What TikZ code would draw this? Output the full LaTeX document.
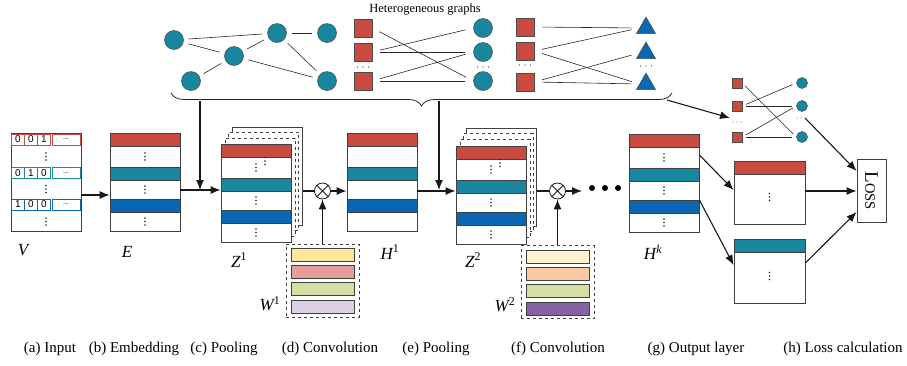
\documentclass[tikz,border=0pt]{standalone}
\usepackage{fontspec}
\setmainfont{Liberation Serif}
\newfontfamily\sansf{Liberation Sans}
\usetikzlibrary{arrows.meta,decorations.pathreplacing,shapes.geometric,calc}
\definecolor{cred}{HTML}{C84B3F}
\definecolor{cteal}{HTML}{17869E}
\definecolor{cblue}{HTML}{0967B4}
\definecolor{wyel}{HTML}{FFE69A}
\definecolor{wpink}{HTML}{E59C9A}
\definecolor{wgreen}{HTML}{D3DFA3}
\definecolor{wlav}{HTML}{DCD0E6}
\definecolor{wcream}{HTML}{FFF3D1}
\definecolor{wpeach}{HTML}{F9CBA5}
\definecolor{wpurp}{HTML}{8563A3}
\newcommand\vdt[2]{\fill[black!85] (#1,#2-3.5) circle (0.8pt) (#1,#2) circle (0.8pt) (#1,#2+3.5) circle (0.8pt);}
\newcommand\hdt[2]{\fill[black!80] (#1-5.5,#2) circle (0.6pt) (#1,#2) circle (0.6pt) (#1+5.5,#2) circle (0.6pt);}
\newcommand\colbox[4]{%
  \node[frame] (#1) at (#2+35,#3+49) {};
  \node[band,fill=cred] (#1-r) at (#2+35,#3+6.5) {};
  \node[band,fill=cteal] (#1-t) at (#2+35,#3+40.5) {};
  \node[band,fill=cblue] (#1-b) at (#2+35,#3+72.5) {};
  \ifnum#4=1 \vdt{#2+35}{#3+23.5}\vdt{#2+35}{#3+56.5}\vdt{#2+35}{#3+88.5}\fi}
\newcommand\vrow[6]{%
  \node[cell,draw=#3,minimum width=13pt] (#1a) at (18,#2) {#4};
  \node[cell,draw=#3,minimum width=13pt] (#1b) at (31,#2) {#5};
  \node[cell,draw=#3,minimum width=13pt] (#1c) at (44,#2) {#6};
  \node[cell,draw=#3,minimum width=28pt] (#1d) at (66,#2) {\fontsize{7}{7}\selectfont ...};}
\begin{document}
\begin{tikzpicture}[x=1pt,y=-1pt,
 frame/.style={draw=black!75,line width=0.8pt,fill=white,minimum width=70pt,minimum height=98pt,inner sep=0pt},
 band/.style={draw=black!75,line width=0.8pt,minimum width=70pt,minimum height=13pt,inner sep=0pt},
 arr/.style={draw=black!90,line width=1.1pt,-{Latex[length=10pt,width=8pt]}},
 ln/.style={draw=black!90,line width=1.1pt},
 gedge/.style={draw=black!85,line width=0.6pt},
 gc/.style={circle,fill=cteal,draw=black!70,line width=0.5pt,minimum size=19pt,inner sep=0pt},
 gs/.style={rectangle,fill=cred,draw=black!70,line width=0.5pt,minimum size=18pt,inner sep=0pt},
 gt/.style={regular polygon,regular polygon sides=3,fill=cblue,draw=black!70,line width=0.5pt,minimum size=22pt,inner sep=0pt},
 sgc/.style={gc,minimum size=11pt},
 sgs/.style={gs,minimum size=10pt},
 lab/.style={font=\fontsize{17}{17}\selectfont\itshape,inner sep=0pt},
 captxt/.style={font=\fontsize{15}{15}\selectfont,inner sep=0pt},
 cell/.style={line width=0.7pt,minimum height=11pt,inner sep=0pt,font=\sansf\fontsize{10}{10}\selectfont},
 wbar/.style={draw=black!75,line width=0.8pt,minimum width=63pt,minimum height=13pt,inner sep=0pt},
 wframe/.style={draw=black!75,dashed,line width=0.8pt,minimum width=73pt,minimum height=73pt,inner sep=0pt},
 ox/.style={circle,draw=black!90,line width=0.8pt,fill=white,minimum size=16pt,inner sep=0pt},
 page/.style={frame},
 dpage/.style={frame,dashed}
]
\useasboundingbox (0,0) rectangle (907,365);

% ---------- heterogeneous graphs ----------
\node[font=\fontsize{12.5}{12.5}\selectfont,inner sep=0pt] (title) at (425,10) {Heterogeneous graphs};
\node[gc] (ga) at (174,40) {};
\node[gc] (gb) at (277,33) {};
\node[gc] (gcc) at (327,33) {};
\node[gc] (gd) at (234,56) {};
\node[gc] (ge) at (191,81) {};
\node[gc] (gf) at (327,81) {};
\draw[gedge,shorten <=5pt,shorten >=5pt] (ga) -- (gb);
\draw[gedge,shorten <=5pt,shorten >=5pt] (ga) -- (gd);
\draw[gedge,shorten <=5pt,shorten >=5pt] (gd) -- (gb);
\draw[gedge,shorten <=5pt,shorten >=5pt] (gb) -- (gcc);
\draw[gedge,shorten <=5pt,shorten >=5pt] (gb) -- (gf);
\draw[gedge,shorten <=5pt,shorten >=5pt] (gd) -- (gf);
\draw[gedge,shorten <=5pt,shorten >=5pt] (ge) -- (gd);

\node[gs] (sA1) at (363,28) {};
\node[gs] (sA2) at (363,52) {};
\node[gs] (sA3) at (363,81) {};
\hdt{363}{67}
\node[gc] (cA1) at (483,28) {};
\node[gc] (cA2) at (483,52) {};
\node[gc] (cA3) at (483,81) {};
\hdt{483}{67}
\begin{scope}[gedge,shorten <=8pt,shorten >=8pt]
\draw (sA1.east) -- (cA3.west);
\draw (sA2.east) -- (cA1.west);
\draw (sA2.east) -- (cA2.west);
\draw (sA3.east) -- (cA2.west);
\draw (sA3.east) -- (cA3.west);
\end{scope}

\node[gs] (sB1) at (525,27) {};
\node[gs] (sB2) at (525,51) {};
\node[gs] (sB3) at (525,82) {};
\hdt{525}{65}
\node[gt] (tB1) at (646,28) {};
\node[gt] (tB2) at (646,53) {};
\node[gt] (tB3) at (646,84) {};
\hdt{646}{66}
\begin{scope}[gedge,shorten <=8pt,shorten >=8pt]
\draw (sB1.east) -- (tB1.west);
\draw (sB2.east) -- (tB1.west);
\draw (sB2.east) -- (tB3.west);
\draw (sB3.east) -- (tB2.west);
\draw (sB3.east) -- (tB3.west);
\end{scope}

\draw[draw=black!85,line width=0.8pt,decorate,decoration={brace,mirror,amplitude=13pt}] (171,93) -- (672,93);
\coordinate (bl) at (200,101);
\coordinate (bm) at (439,101);
\coordinate (br) at (667,100);

% small output graph
\node[sgs] (sC1) at (737,83) {};
\node[sgs] (sC2) at (737,106) {};
\node[sgs] (sC3) at (737,137) {};
\node[sgc] (cC1) at (802,83) {};
\node[sgc] (cC2) at (802,106) {};
\node[sgc] (cC3) at (802,137) {};
\fill[black!80] (733,122) circle (0.5pt) (737,122) circle (0.5pt) (741,122) circle (0.5pt);
\fill[black!80] (797,118) circle (0.5pt) (801,118) circle (0.5pt);
\coordinate (dC) at (805,118);
\begin{scope}[gedge,shorten <=4pt,shorten >=4pt]
\draw (sC1.east) -- (cC3.west);
\draw (sC2.east) -- (cC1.west);
\draw (sC2.east) -- (cC2.west);
\draw (sC3.east) -- (cC2.west);
\draw (sC3.east) -- (cC3.west);
\end{scope}

% ---------- V ----------
\node[frame] (V) at (46,182) {};
\vrow{Va}{139.5}{cred}{0}{0}{1}
\vrow{Vb}{173}{cteal}{0}{1}{0}
\vrow{Vc}{204.5}{cblue}{1}{0}{0}
\vdt{46}{156.5}\vdt{46}{189}\vdt{46}{221.5}

% ---------- E ----------
\colbox{E}{110}{133}{1}

% ---------- Z1 ----------
\node[page] (z1p3) at (256.5+11,193-17) {};
\node[dpage] (z1p2) at (256.5+7,193-12) {};
\node[dpage] (z1p1) at (256.5+3.5,193-6) {};
\colbox{Z1}{221}{144}{1}
\vdt{265}{161}

% ---------- H1 ----------
\colbox{H1}{347}{133}{0}

% ---------- Z2 ----------
\node[page] (z2p3) at (491.5+10,194.5-17) {};
\node[dpage] (z2p2) at (491.5+6.5,194.5-12) {};
\node[dpage] (z2p1) at (491.5+3.5,194.5-6) {};
\colbox{Z2}{456}{146}{1}
\vdt{500}{163}

% ---------- Hk ----------
\colbox{Hk}{629}{134}{1}

% ---------- W ----------
\node[wframe] (W1) at (322.5,280.5) {};
\node[wbar,fill=wyel] (W1a) at (322.5,254.5) {};
\node[wbar,fill=wpink] (W1b) at (322.5,271.5) {};
\node[wbar,fill=wgreen] (W1c) at (322.5,289) {};
\node[wbar,fill=wlav] (W1d) at (322.5,306.5) {};
\node[wframe] (W2) at (557.5,282) {};
\node[wbar,fill=wcream] (W2a) at (557.5,256.5) {};
\node[wbar,fill=wpeach] (W2b) at (557.5,273.5) {};
\node[wbar,fill=wgreen] (W2c) at (557.5,291) {};
\node[wbar,fill=wpurp] (W2d) at (557.5,308.5) {};

% ---------- otimes ----------
\node[ox] (o1) at (322.5,191) {};
\draw[black!90,line width=0.8pt] (o1.north west) -- (o1.south east) (o1.north east) -- (o1.south west);
\node[ox] (o2) at (557.5,191) {};
\draw[black!90,line width=0.8pt] (o2.north west) -- (o2.south east) (o2.north east) -- (o2.south west);

% ---------- output ----------
\node[frame,minimum width=71pt,minimum height=63pt] (out1) at (769.5,192.5) {};
\node[band,minimum width=71pt,fill=cred] (out1r) at (769.5,167.5) {};
\vdt{769.5}{197}
\node[frame,minimum width=71pt,minimum height=64pt] (out2) at (769.5,271) {};
\node[band,minimum width=71pt,fill=cteal] (out2t) at (769.5,245.5) {};
\vdt{769.5}{276}
\node[draw=black!75,line width=0.8pt,minimum width=29pt,minimum height=63pt,inner sep=0pt] (loss) at (871.5,190.5) {};
\node[rotate=-90,inner sep=0pt] (losst) at (loss) {{\fontsize{19}{19}\selectfont L}{\fontsize{14.5}{14.5}\selectfont OSS}};

% ---------- connectors ----------
\draw[arr] (V.east |- 0,195) -- (E.west |- 0,195);
\draw[arr] (E.east |- 0,190) -- (Z1.west |- 0,190);
\coordinate (j1) at (200,190);
\draw[arr] (bl) -- (j1);
\draw[ln] (z1p3.east |- o1.west) -- (o1.west);
\draw[arr] (o1.east) -- (H1.west |- o1.east);
\draw[arr] (W1.north) -- (o1.south);
\draw[arr] (H1.east |- 0,191) -- (Z2.west |- 0,191);
\coordinate (j2) at (439,190);
\draw[arr] (bm) -- (j2);
\draw[ln] (z2p3.east |- o2.west) -- (o2.west);
\draw[arr] (W2.north) -- (o2.south);
\draw[arr] (o2.east) -- (582,191);
\fill (592,188) circle (3pt) (605,188) circle (3pt) (618,188) circle (3pt);
\draw[arr] (Hk.east |- 0,155) -- (out1.west |- 0,190);
\draw[arr] (Hk.east |- 0,200) -- (out2.west |- 0,265);
\draw[arr] (out1.east |- 0,191) -- (loss.west |- 0,191);
\draw[arr] (out2.east |- 0,263) -- (loss.west |- 0,212);
\draw[arr] (dC) -- (loss.west |- 0,171);
\draw[arr] (br) -- (730,118);

% ---------- labels ----------
\node[lab] (lV) at (23,250) {V};
\node[lab] (lE) at (127,252) {E};
\node[lab] (lZ1) at (239,260) {Z\textsuperscript{\upshape 1}};
\node[lab] (lH1) at (390,252) {H\textsuperscript{\upshape 1}};
\node[lab] (lW1) at (270,304) {W\textsuperscript{\upshape 1}};
\node[lab] (lZ2) at (473,260) {Z\textsuperscript{\upshape 2}};
\node[lab] (lW2) at (505,305) {W\textsuperscript{\upshape 2}};
\node[lab] (lHk) at (653,252) {H\textsuperscript{k}};

\node[captxt] (ca) at (50,349) {(a) Input};
\node[captxt] (cb) at (134,349) {(b) Embedding};
\node[captxt] (cc) at (224,349) {(c) Pooling};
\node[captxt] (cd) at (330,349) {(d) Convolution};
\node[captxt] (ce) at (436,349) {(e) Pooling};
\node[captxt] (cf) at (558,349) {(f) Convolution};
\node[captxt] (cg) at (696,349) {(g) Output layer};
\node[captxt] (ch) at (843,349) {(h) Loss calculation};
\end{tikzpicture}
\end{document}
